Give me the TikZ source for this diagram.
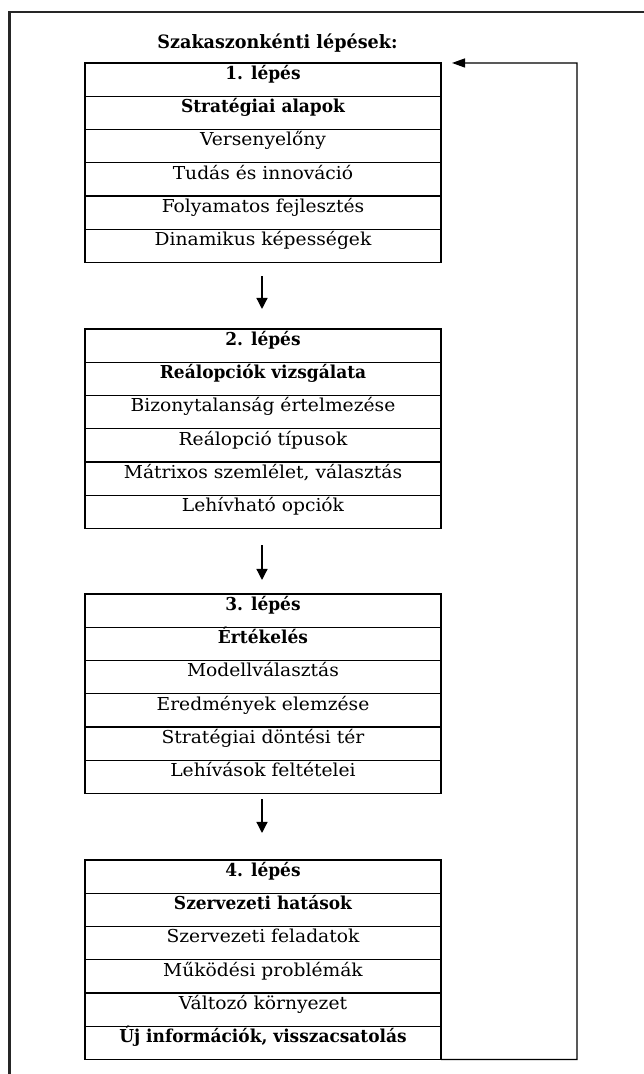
\documentclass[tikz,border=0pt]{standalone}
\usepackage{fontspec}
\setmainfont{DejaVu Serif}[FakeStretch=1.05, BoldFeatures={FakeStretch=0.955}]
\usetikzlibrary{arrows.meta,positioning}
\tikzset{
  row/.style={draw, line width=1.2pt, minimum width=356pt, minimum height=33.25pt,
    inner sep=0pt, outer sep=0pt, text height=12pt, text depth=12.5pt,
    font=\fontsize{17.8}{20}\selectfont},
  hrow/.style={row, font=\fontsize{17.8}{20}\selectfont\bfseries},
  arr/.style={line width=1.3pt, -{Triangle[width=11pt,length=11pt]}},
  fbarr/.style={line width=1.3pt, -{Triangle[width=9pt,length=13pt]}},
}
\begin{document}
\begin{tikzpicture}[x=1pt,y=-1pt]
\useasboundingbox (0,0) rectangle (643,1074);
% outer frame
\draw[line width=2.2pt, color=black!85] (9.5,1080) -- (9.5,12) -- (650,12);
% title
\node[font=\fontsize{18.4}{20}\selectfont\bfseries, anchor=base, inner sep=0pt] (title) at (277.5,48) {Szakaszonkénti lépések:};
% box 1
\node[hrow] (a1) at (263,79.6) {1. lépés};
\node[hrow, below=0pt of a1] (a2) {Stratégiai alapok};
\node[row, below=0pt of a2] (a3) {Versenyelőny};
\node[row, below=0pt of a3] (a4) {Tudás és innováció};
\node[row, below=0pt of a4] (a5) {Folyamatos fejlesztés};
\node[row, below=0pt of a5] (a6) {Dinamikus képességek};
% box 2
\node[hrow] (b1) at (263,345.6) {2. lépés};
\node[hrow, below=0pt of b1] (b2) {Reálopciók vizsgálata};
\node[row, below=0pt of b2] (b3) {Bizonytalanság értelmezése};
\node[row, below=0pt of b3] (b4) {Reálopció típusok};
\node[row, below=0pt of b4] (b5) {Mátrixos szemlélet, választás};
\node[row, below=0pt of b5] (b6) {Lehívható opciók};
% box 3
\node[hrow] (c1) at (263,610.6) {3. lépés};
\node[hrow, below=0pt of c1] (c2) {Értékelés};
\node[row, below=0pt of c2] (c3) {Modellválasztás};
\node[row, below=0pt of c3] (c4) {Eredmények elemzése};
\node[row, below=0pt of c4] (c5) {Stratégiai döntési tér};
\node[row, below=0pt of c5] (c6) {Lehívások feltételei};
% box 4
\node[hrow] (d1) at (263,876.6) {4. lépés};
\node[hrow, below=0pt of d1] (d2) {Szervezeti hatások};
\node[row, below=0pt of d2] (d3) {Szervezeti feladatok};
\node[row, below=0pt of d3] (d4) {Működési problémák};
\node[row, below=0pt of d4] (d5) {Változó környezet};
\node[hrow, below=0pt of d5] (d6) {Új információk, visszacsatolás};
% arrows between boxes
\draw[arr] ([xshift=-1pt,yshift=-14pt]a6.south) -- ([xshift=-1pt,yshift=20pt]b1.north);
\draw[arr] ([xshift=-1pt,yshift=-17pt]b6.south) -- ([xshift=-1pt,yshift=14pt]c1.north);
\draw[arr] ([xshift=-1pt,yshift=-6pt]c6.south) -- ([xshift=-1pt,yshift=27pt]d1.north);
% feedback loop
\coordinate (fbtop) at (577,63);
\draw[fbarr] (d6.south east) -| (fbtop) -- ([xshift=11pt]a1.north east);
\end{tikzpicture}
\end{document}
